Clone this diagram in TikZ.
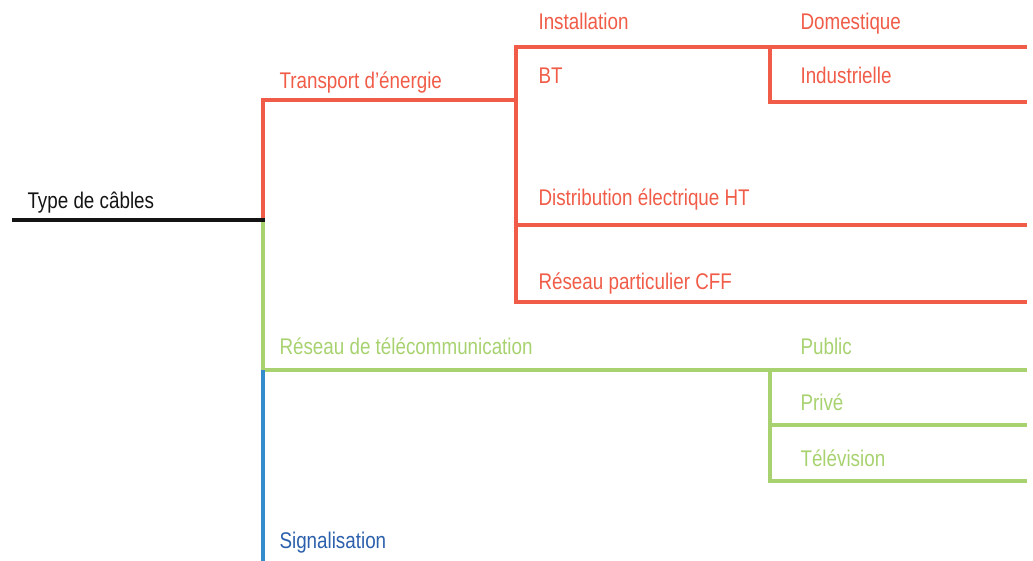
\documentclass[tikz,border=0pt]{standalone}
\usepackage{fontspec}
\setmainfont{Liberation Sans}[FakeStretch=0.83]
\usetikzlibrary{calc}
\definecolor{cablered}{RGB}{240,92,72}
\definecolor{cablegreen}{RGB}{168,210,112}
\definecolor{cableblue}{RGB}{52,140,205}
\definecolor{cablebluetext}{RGB}{44,96,172}
\definecolor{cableblack}{RGB}{20,20,20}

\begin{document}
\begin{tikzpicture}[x = .75pt, y = -.75pt, line width = 2.3pt,
    lbl/.style = {anchor = base west, inner sep = 0pt, font = \fontsize{17}{20}\selectfont},
    redline/.style = {draw = cablered},
    greenline/.style = {draw = cablegreen},
    blueline/.style = {draw = cableblue}]
    \useasboundingbox (0,0) rectangle (1033,561);
    % branch points
    \coordinate (start) at (12,220);
    \coordinate (root) at (263,220);
    \coordinate (trans) at (263,100);
    \coordinate (transend) at (516,100);
    \coordinate (insttop) at (516,47);
    \coordinate (instbot) at (516,302);
    \coordinate (domtop) at (770,47);
    \coordinate (indbot) at (770,102);
    \coordinate (htleft) at (516,225);
    \coordinate (telec) at (263,370);
    \coordinate (pubtop) at (770,370);
    \coordinate (tvbot) at (770,481);
    \coordinate (privleft) at (770,425);
    \coordinate (signal) at (263,561);
    % labels
    \node[lbl, cableblack] (types) at (26,208) {Type de câbles};
    \node[lbl, cablered] (transport) at (278,88) {Transport d’énergie};
    \node[lbl, cablered] (install) at (537,29) {Installation};
    \node[lbl, cablered] (bt) at (537,83) {BT};
    \node[lbl, cablered] (domest) at (799,29) {Domestique};
    \node[lbl, cablered] (indust) at (799,83) {Industrielle};
    \node[lbl, cablered] (distrib) at (537,205) {Distribution électrique HT};
    \node[lbl, cablered] (cff) at (537,289) {Réseau particulier CFF};
    \node[lbl, cablegreen] (telecom) at (278,354) {Réseau de télécommunication};
    \node[lbl, cablegreen] (public) at (799,354) {Public};
    \node[lbl, cablegreen] (prive) at (799,410) {Privé};
    \node[lbl, cablegreen] (tv) at (799,466) {Télévision};
    \node[lbl, cablebluetext] (signalis) at (278,548) {Signalisation};
    % connectors
    \draw[redline] (root) -- (trans) -- (transend);
    \draw[redline] (instbot -| 1027,0) -- (instbot) -- (insttop) -- (insttop -| 1027,0);
    \draw[redline] (indbot -| 1027,0) -- (indbot) -- (domtop);
    \draw[redline] (htleft) -- (htleft -| 1027,0);
    \draw[greenline] (root) -- (telec) -- (telec -| 1027,0);
    \draw[greenline] (tvbot -| 1027,0) -- (tvbot) -- (pubtop);
    \draw[greenline] (privleft) -- (privleft -| 1027,0);
    \draw[blueline] (telec) -- (signal);
    \draw[cableblack] (start) -- ($(root)+(1.5,0)$);
\end{tikzpicture}
\end{document}
